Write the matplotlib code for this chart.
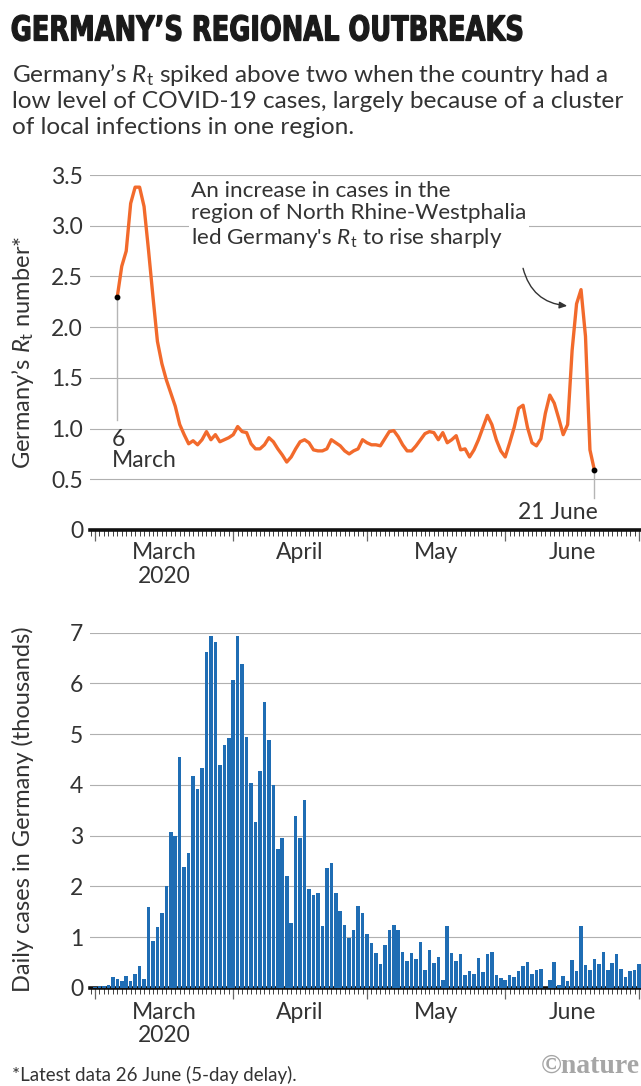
import matplotlib
matplotlib.use('Agg')
import matplotlib.pyplot as plt
import matplotlib.dates as mdates
from matplotlib.ticker import NullFormatter
from matplotlib.textpath import TextPath
from matplotlib.patches import PathPatch
from matplotlib.font_manager import FontProperties
from matplotlib.transforms import Affine2D
import pandas as pd

plt.rcParams['font.family'] = ['Lato', 'DejaVu Sans']
plt.rcParams['mathtext.fontset'] = 'custom'
plt.rcParams['mathtext.rm'] = 'Lato'
plt.rcParams['mathtext.it'] = 'Lato:italic'

# ---------------- data ----------------
# Rt estimate, daily from 6 March to 21 June 2020
rt_start = '2020-03-06'
rt_march = [2.30, 2.60, 2.75, 3.22, 3.38, 3.38, 3.19, 2.76, 2.30, 1.86, 1.64, 1.48, 1.35,
            1.22, 1.04, 0.94, 0.85, 0.88, 0.84, 0.89, 0.97, 0.89, 0.94, 0.87, 0.89, 0.91]
rt_april = [0.94, 1.02, 0.97, 0.96, 0.85, 0.80, 0.80, 0.84, 0.91, 0.87, 0.80, 0.74, 0.67,
            0.72, 0.80, 0.87, 0.89, 0.86, 0.79, 0.78, 0.78, 0.80, 0.89, 0.86, 0.83, 0.78,
            0.75, 0.78, 0.80, 0.89]
rt_may = [0.86, 0.84, 0.84, 0.83, 0.90, 0.97, 0.98, 0.92, 0.84, 0.78, 0.78, 0.83, 0.89,
          0.95, 0.97, 0.96, 0.89, 0.96, 0.86, 0.89, 0.93, 0.79, 0.80, 0.72, 0.79, 0.89,
          1.01, 1.13, 1.04, 0.89, 0.78]
rt_june = [0.72, 0.86, 1.01, 1.20, 1.23, 1.01, 0.86, 0.83, 0.90, 1.15, 1.33, 1.25, 1.10,
           0.94, 1.04, 1.77, 2.23, 2.37, 1.91, 0.79, 0.59]

# daily cases (thousands), 1 March to 1 July 2020
cases_start = '2020-03-01'
cases_march = [0.02, 0.03, 0.03, 0.05, 0.22, 0.18, 0.13, 0.23, 0.13, 0.28, 0.44, 0.18, 1.59,
               0.92, 1.20, 1.48, 2.00, 3.07, 3.00, 4.54, 2.38, 2.66, 4.18, 3.91, 4.33, 6.62,
               6.93, 6.82, 4.39, 4.79, 4.92]
cases_april = [6.07, 6.93, 6.38, 4.94, 4.03, 3.26, 4.28, 5.64, 4.89, 3.99, 2.73, 2.95, 2.21,
               1.28, 3.39, 2.95, 3.70, 1.95, 1.84, 1.88, 1.23, 2.36, 2.47, 1.87, 1.51, 1.25,
               0.98, 1.15, 1.62, 1.48]
cases_may = [1.06, 0.88, 0.68, 0.47, 0.85, 1.14, 1.25, 1.14, 0.71, 0.53, 0.68, 0.58, 0.91,
             0.35, 0.75, 0.50, 0.62, 0.16, 1.22, 0.68, 0.53, 0.67, 0.26, 0.33, 0.27, 0.60,
             0.31, 0.66, 0.70, 0.26, 0.19]
cases_june = [0.15, 0.26, 0.21, 0.34, 0.44, 0.52, 0.28, 0.35, 0.38, 0.0, 0.15, 0.52, 0.05,
              0.23, 0.13, 0.56, 0.33, 1.22, 0.46, 0.35, 0.58, 0.48, 0.70, 0.36, 0.50, 0.66,
              0.38, 0.21, 0.33, 0.36]
cases_july = [0.48]

rt_ticks = [0, 0.5, 1.0, 1.5, 2.0, 2.5, 3.0, 3.5]
rt_ticklabels = ['0', '0.5', '1.0', '1.5', '2.0', '2.5', '3.0', '3.5']
case_ticks = [0, 1, 2, 3, 4, 5, 6, 7]
month_labels = ['March\n2020', 'April', 'May', 'June']
month_starts = ['2020-03-01', '2020-04-01', '2020-05-01', '2020-06-01', '2020-07-01']

rt_values = rt_march + rt_april + rt_may + rt_june
rt_dates = pd.date_range(rt_start, periods=len(rt_values), freq='D')
case_values = cases_march + cases_april + cases_may + cases_june + cases_july
case_dates = pd.date_range(cases_start, periods=len(case_values), freq='D')

# ---------------- style ----------------
TEXT = '#333333'
ORANGE = '#f26a2c'
BLUE = '#1f6db4'
GRID = '#b0b0b0'
FS = 16.5

W, H = 641, 1086
fig = plt.figure(figsize=(W / 100, H / 100), dpi=100)


def box(x0, y_top, x1, y_bottom):
    """pixel box (y measured from top) -> figure fraction"""
    return [x0 / W, 1 - y_bottom / H, (x1 - x0) / W, (y_bottom - y_top) / H]


ov = fig.add_axes([0, 0, 1, 1], zorder=-1)
ov.set_xlim(0, W)
ov.set_ylim(H, 0)
ov.axis('off')

ax1 = fig.add_axes(box(90, 175, 641, 530))
ax2 = fig.add_axes(box(90, 632.5, 641, 988))

mar1 = mdates.date2num(pd.Timestamp('2020-03-01'))
x_left, x_right = mar1 - 1.12, mar1 + 122.45
starts = [mdates.date2num(pd.Timestamp(s)) for s in month_starts]
mids = [(a + b) / 2 for a, b in zip(starts[:-1], starts[1:])]


def style_axis(ax, ymax, ticks, labels, month_y):
    ax.set_facecolor('none')
    for s in ['top', 'right', 'left']:
        ax.spines[s].set_visible(False)
    ax.spines['bottom'].set_linewidth(2.6)
    ax.spines['bottom'].set_color('#111111')
    ax.set_xlim(x_left, x_right)
    ax.set_ylim(0, ymax)
    ax.set_yticks(ticks)
    ax.set_yticklabels(labels)
    ax.tick_params(axis='y', length=0, pad=5, labelsize=FS, labelcolor=TEXT)
    ax.xaxis.set_major_locator(mdates.MonthLocator())
    ax.xaxis.set_minor_locator(mdates.DayLocator())
    ax.xaxis.set_major_formatter(NullFormatter())
    ax.tick_params(axis='x', which='major', length=8, width=0.9, color='#666666')
    ax.tick_params(axis='x', which='minor', length=4.5, width=0.6, color='#222222')
    # light gridlines
    for t in ticks[1:]:
        ax.axhline(t, color=GRID, lw=0.8, zorder=2)
    for m, lab in zip(mids, month_labels):
        ax.text(m, month_y, lab, ha='center', va='top', fontsize=FS, color=TEXT,
                linespacing=1.15, clip_on=False)


style_axis(ax1, 3.5, rt_ticks, rt_ticklabels, -0.12)
style_axis(ax2, 7, case_ticks, [str(t) for t in case_ticks], -0.27)

# ---------------- Rt chart ----------------
ax1.plot(rt_dates, rt_values, color=ORANGE, lw=2.4, solid_joinstyle='round', zorder=4)
d0, d1 = rt_dates[0], rt_dates[-1]
ax1.plot([d0, d0], [rt_values[0], 1.085], color='#b5b5b5', lw=1, zorder=3.8)
ax1.plot([d1, d1], [rt_values[-1], 0.316], color='#b5b5b5', lw=1, zorder=3.8)
ax1.plot([d0, d1], [rt_values[0], rt_values[-1]], 'o', color='black', ms=3.2, zorder=5)
ax1.text(mdates.date2num(d0) - 1.2, 1.0, '6\nMarch', ha='left', va='top', fontsize=FS,
         color=TEXT, linespacing=1.0, zorder=5)
ax1.text(mdates.date2num(d1) + 0.7, 0.28, '21 June', ha='right', va='top', fontsize=FS,
         color=TEXT, zorder=5)

ax1.text(mar1 + 21.6, 3.44,
         "An increase in cases in the\nregion of North Rhine-Westphalia\n"
         "led Germany's $R_\\mathrm{t}$ to rise sharply",
         ha='left', va='top', fontsize=16.2, color=TEXT, linespacing=1.15, zorder=5,
         bbox=dict(facecolor='white', edgecolor='none', pad=2))
ax1.annotate('', xy=(mar1 + 105.9, 2.21), xytext=(mar1 + 96.0, 2.58),
             arrowprops=dict(arrowstyle='-|>,head_length=0.45,head_width=0.2',
                             color='#333333', lw=1,
                             connectionstyle='arc3,rad=0.35',
                             shrinkA=0, shrinkB=0), zorder=5)

# ---------------- cases chart ----------------
ax2.bar(case_dates, case_values, width=0.8, color=BLUE, edgecolor='none', zorder=3)

# ---------------- titles and notes ----------------
title = 'GERMANY\u2019S REGIONAL OUTBREAKS'
tp = TextPath((0, 0), title, size=100,
              prop=FontProperties(family='DejaVu Sans', weight='bold'))
bb = tp.get_extents()
tr = (Affine2D().translate(-bb.x0, -bb.y0)
      .scale(510 / bb.width, -26 / bb.height).translate(12, 41))
ov.add_patch(PathPatch(tr.transform_path(tp), facecolor='#1a1a1a',
                       edgecolor='#1a1a1a', lw=0.9))

sub_lines = ['Germany\u2019s $R_\\mathrm{t}$ spiked above two when the country had a',
             'low level of COVID-19 cases, largely because of a cluster',
             'of local infections in one region.']
for line, yb in zip(sub_lines, [82, 108, 134]):
    ov.text(12, yb, line, fontsize=17.6, color=TEXT, va='baseline', ha='left')

ov.text(23, 352, 'Germany\u2019s $R_\\mathrm{t}$ number*', rotation=90, ha='center',
        va='center', fontsize=17, color=TEXT)
ov.text(23, 809, 'Daily cases in Germany (thousands)', rotation=90, ha='center',
        va='center', fontsize=17, color=TEXT)

ov.text(12, 1081, '*Latest data 26 June (5-day delay).', fontsize=13.5, color=TEXT,
        va='baseline', ha='left')
ov.text(640, 1073, '\u00a9nature', fontsize=20, color='#a6a6a6', va='baseline',
        ha='right', family='Liberation Serif', weight='bold')

fig.savefig('out.png', dpi=100, facecolor='white')
